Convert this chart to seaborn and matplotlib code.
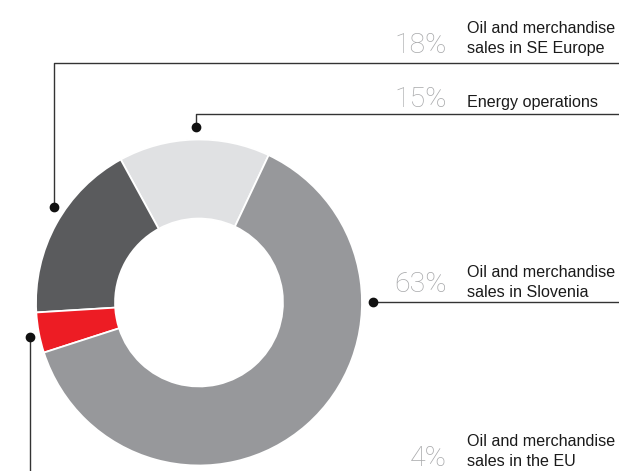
import matplotlib
matplotlib.use("Agg")
import matplotlib.pyplot as plt
import seaborn as sns

# Revenue structure by segment
segments = ["Energy operations",
            "Oil and merchandise\nsales in SE Europe",
            "Oil and merchandise\nsales in the EU",
            "Oil and merchandise\nsales in Slovenia"]
shares = [15, 18, 4, 63]
colors = ["#e0e1e3", "#5a5b5d", "#ed1c24", "#97989b"]

sns.set_theme(style="white")
plt.rcParams["font.family"] = ["Liberation Sans", "DejaVu Sans"]

W, H = 619, 471
fig = plt.figure(figsize=(W / 100, H / 100), dpi=100)
ax = fig.add_axes([0, 0, 1, 1])

# pixel-like coordinates, y measured from the top
def Y(y):
    return H - y

cx, cy, r = 199, 302.5, 163
ax.pie(shares, colors=colors, startangle=64.7, counterclock=True,
       center=(cx, Y(cy)), radius=r,
       wedgeprops=dict(width=r * 0.485, edgecolor="white", linewidth=1.3))
ax.set_xlim(0, W)
ax.set_ylim(0, H)
ax.set_aspect("equal")
ax.axis("off")

line_kw = dict(color="#333333", linewidth=1.0, solid_capstyle="butt")
dot_kw = dict(marker="o", markersize=6, color="#111111", linestyle="none")

# leader lines from each ring segment to its label row
# SE Europe
ax.plot([54, 54, W], [Y(207), Y(62.5), Y(62.5)], **line_kw)
ax.plot([54], [Y(207)], **dot_kw)
# Energy operations
ax.plot([196, 196, W], [Y(127), Y(114), Y(114)], **line_kw)
ax.plot([196], [Y(127)], **dot_kw)
# Slovenia
ax.plot([373, W], [Y(302.3), Y(302.3)], **line_kw)
ax.plot([373], [Y(302.3)], **dot_kw)
# EU
ax.plot([30, 30], [Y(337), 0], **line_kw)
ax.plot([30], [Y(337)], **dot_kw)

pct_kw = dict(ha="right", va="baseline", fontsize=20.5, color="#a8a9ab",
              family=["Roboto", "DejaVu Sans"], fontweight="light")
txt_kw = dict(ha="left", va="baseline", fontsize=11.6, color="#1a1a1a")

labels = [
    # (pct, text, pct baseline, text first baseline)
    (shares[1], segments[1], 53, 33),
    (shares[0], segments[0], 107, 107),
    (shares[3], segments[3], 292, 277),
    (shares[2], segments[2], 466, 446),
]
for pct, text, yb, yt in labels:
    ax.text(447, Y(yb), f"{pct}%", **pct_kw)
    for i, line in enumerate(text.split("\n")):
        ax.text(467, Y(yt + 20 * i), line, **txt_kw)

fig.savefig("out.png", dpi=100)
